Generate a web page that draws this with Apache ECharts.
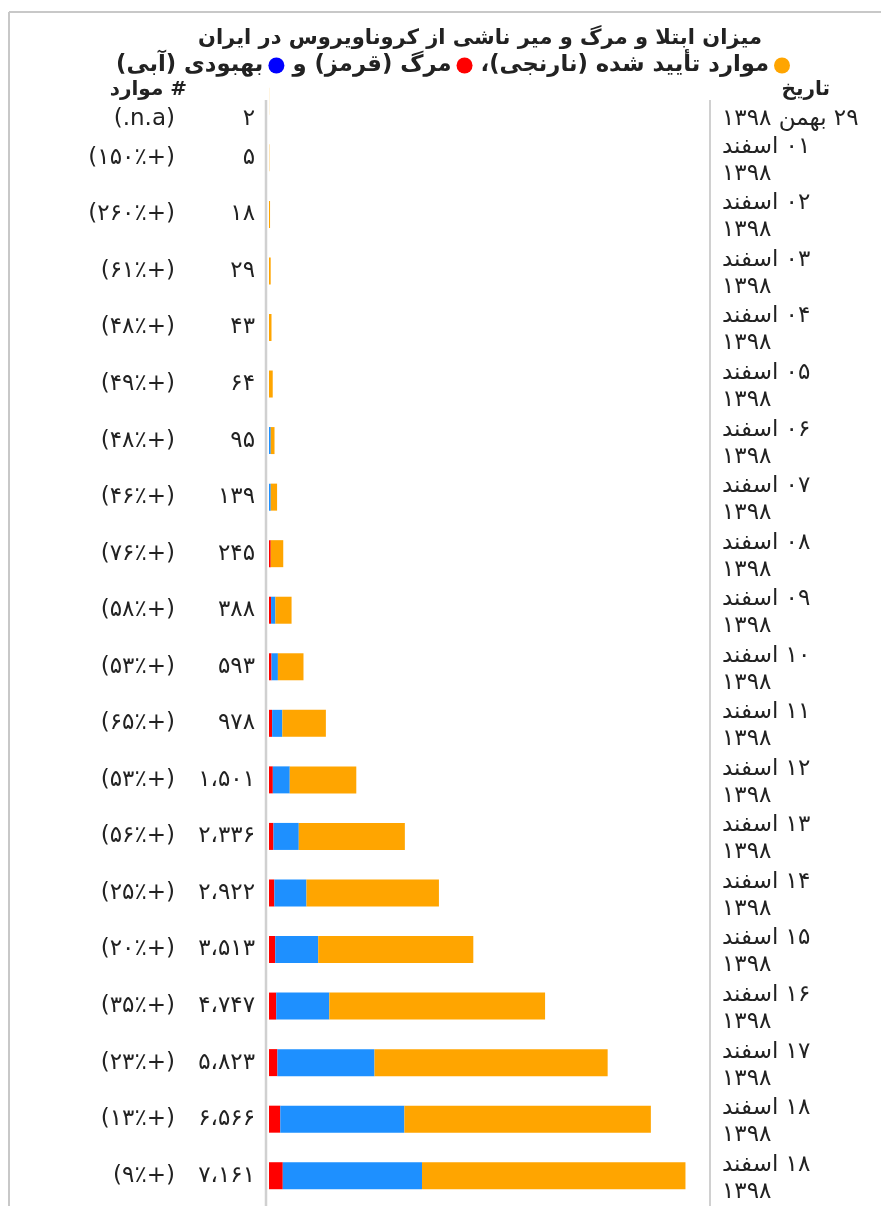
<!DOCTYPE html>
<html><head><meta charset="utf-8">
<script src="https://cdn.jsdelivr.net/npm/echarts@6/dist/echarts.min.js"></script>
<style>html,body{margin:0;padding:0;background:#fff}#c{width:881px;height:1206px}</style>
</head><body><div id="c"></div>
<script>
// ---- data ----
const dates = ['۲۹ بهمن ۱۳۹۸','۰۱ اسفند\n۱۳۹۸','۰۲ اسفند\n۱۳۹۸','۰۳ اسفند\n۱۳۹۸','۰۴ اسفند\n۱۳۹۸','۰۵ اسفند\n۱۳۹۸','۰۶ اسفند\n۱۳۹۸','۰۷ اسفند\n۱۳۹۸','۰۸ اسفند\n۱۳۹۸','۰۹ اسفند\n۱۳۹۸','۱۰ اسفند\n۱۳۹۸','۱۱ اسفند\n۱۳۹۸','۱۲ اسفند\n۱۳۹۸','۱۳ اسفند\n۱۳۹۸','۱۴ اسفند\n۱۳۹۸','۱۵ اسفند\n۱۳۹۸','۱۶ اسفند\n۱۳۹۸','۱۷ اسفند\n۱۳۹۸','۱۸ اسفند\n۱۳۹۸','۱۸ اسفند\n۱۳۹۸'];
const confirmed = [2,5,18,29,43,64,95,139,245,388,593,978,1501,2336,2922,3513,4747,5823,6566,7161];
const deaths    = [0,0,0,0,0,0,0,0,30,35,43,54,66,77,92,107,124,145,194,237];
const recovered = [0,0,0,0,0,0,30,30,0,75,110,175,291,435,552,739,913,1669,2134,2394];
const countLabels = ['۲','۵','۱۸','۲۹','۴۳','۶۴','۹۵','۱۳۹','۲۴۵','۳۸۸','۵۹۳','۹۷۸','۱،۵۰۱','۲،۳۳۶','۲،۹۲۲','۳،۵۱۳','۴،۷۴۷','۵،۸۲۳','۶،۵۶۶','۷،۱۶۱'];
const changeLabels = ['(.n.a)','(۱۵۰٪+)','(۲۶۰٪+)','(۶۱٪+)','(۴۸٪+)','(۴۹٪+)','(۴۸٪+)','(۴۶٪+)','(۷۶٪+)','(۵۸٪+)','(۵۳٪+)','(۶۵٪+)','(۵۳٪+)','(۵۶٪+)','(۲۵٪+)','(۲۰٪+)','(۳۵٪+)','(۲۳٪+)','(۱۳٪+)','(۹٪+)'];
const seriesNames = ['مرگ','بهبودی','موارد تأیید شده'];
const legendLabels = {'مرگ':'مرگ (قرمز) و','بهبودی':'بهبودی (آبی)','موارد تأیید شده':'موارد تأیید شده (نارنجی)،'};
const titleText = 'میزان ابتلا و مرگ و میر ناشی از کروناویروس در ایران';
const headerCases = '# موارد';
const headerDate = 'تاریخ';

// ---- helpers ----
const RLE='\u202B', LRO='\u202D', PDF='\u202C';
const rtl = s => s.split('\n').map(l => RLE + l + PDF).join('\n');
const ltr = s => LRO + s + PDF;
const active = confirmed.map((c,i) => c - deaths[i] - recovered[i]);
const FONT = 'DejaVu Sans';
const TXT = '#222';
const LBL = 23;

const chart = echarts.init(document.getElementById('c'), null, {renderer:'canvas'});
chart.setOption({
  animation: false,
  backgroundColor: '#fff',
  title: [
    {text: rtl(titleText), right: 119, top: 28, padding: 0,
     textStyle: {fontFamily: FONT, fontWeight: 'bold', fontSize: 21, color: TXT}},
    {text: rtl(headerCases), right: 694, top: 80, padding: 0,
     textStyle: {fontFamily: FONT, fontWeight: 'bold', fontSize: 20, color: TXT}},
    {text: rtl(headerDate), right: 51, top: 80, padding: 0,
     textStyle: {fontFamily: FONT, fontWeight: 'bold', fontSize: 20, color: TXT}}
  ],
  legend: {
    right: 91, top: 54, width: 820, padding: 0, align: 'right', icon: 'circle',
    itemWidth: 16, itemHeight: 16, itemGap: 8, selectedMode: false,
    data: [
      {name: seriesNames[1], itemStyle: {color: '#0000ff'}},
      {name: seriesNames[0], itemStyle: {color: '#ff0000'}},
      {name: seriesNames[2], itemStyle: {color: '#ffa500'}}
    ],
    formatter: n => rtl(legendLabels[n]),
    textStyle: {fontFamily: FONT, fontWeight: 'bold', fontSize: 22.7, color: TXT}
  },
  grid: {left: 269, right: 170, top: 73, bottom: 2, containLabel: false},
  xAxis: {type: 'value', min: 0, max: 7600, show: false},
  yAxis: [
    {type: 'category', inverse: true, data: dates, position: 'left',
     axisLine: {show: false}, axisTick: {show: false},
     axisLabel: {interval: 0, margin: 14,
       formatter: (v, i) => i === 0
         ? '{p0|' + ltr(changeLabels[i]) + '}{c0|' + ltr(countLabels[i]) + '}'
         : '{p|' + ltr(changeLabels[i]) + '}{c|' + ltr(countLabels[i]) + '}',
       rich: {
         p: {fontFamily: FONT, fontSize: LBL, color: TXT, align: 'right'},
         c: {fontFamily: FONT, fontSize: LBL, color: TXT, width: 80, align: 'right'},
         p0: {fontFamily: FONT, fontSize: LBL, color: TXT, align: 'right', padding: [36,0,0,0]},
         c0: {fontFamily: FONT, fontSize: LBL, color: TXT, width: 80, align: 'right', padding: [36,0,0,0]}
       }}},
    {type: 'category', inverse: true, data: dates, position: 'right',
     axisLine: {show: false}, axisTick: {show: false},
     axisLabel: {interval: 0, margin: 11, align: 'left',
       formatter: (v, i) => i === 0 ? '{d0|' + rtl(dates[i]) + '}' : '{d|' + rtl(dates[i]) + '}',
       rich: {
         d: {fontFamily: FONT, fontSize: LBL, color: TXT, lineHeight: 27, padding: [5,0,0,0]},
         d0: {fontFamily: FONT, fontSize: LBL, color: TXT, lineHeight: 27, padding: [36,0,0,0]}
       }}}
  ],
  series: [
    {name: seriesNames[0], type: 'bar', stack: 'all', data: deaths, barWidth: 27, itemStyle: {color: '#ff0000'}},
    {name: seriesNames[1], type: 'bar', stack: 'all', data: recovered, barWidth: 27, itemStyle: {color: '#1e90ff'}},
    {name: seriesNames[2], type: 'bar', stack: 'all', data: active, barWidth: 27, itemStyle: {color: '#ffa500'}}
  ],
  graphic: [
    {type: 'line', silent: true, shape: {x1: 9, y1: 12, x2: 881, y2: 12}, style: {stroke: '#c8c8c8', lineWidth: 2}},
    {type: 'line', silent: true, shape: {x1: 9, y1: 12, x2: 9, y2: 1206}, style: {stroke: '#c8c8c8', lineWidth: 2}},
    {type: 'line', silent: true, shape: {x1: 266, y1: 100, x2: 266, y2: 1206}, style: {stroke: '#d0d0d0', lineWidth: 2.5}},
    {type: 'line', silent: true, shape: {x1: 710, y1: 100, x2: 710, y2: 1206}, style: {stroke: '#d0d0d0', lineWidth: 2}}
  ]
});
</script></body></html>
